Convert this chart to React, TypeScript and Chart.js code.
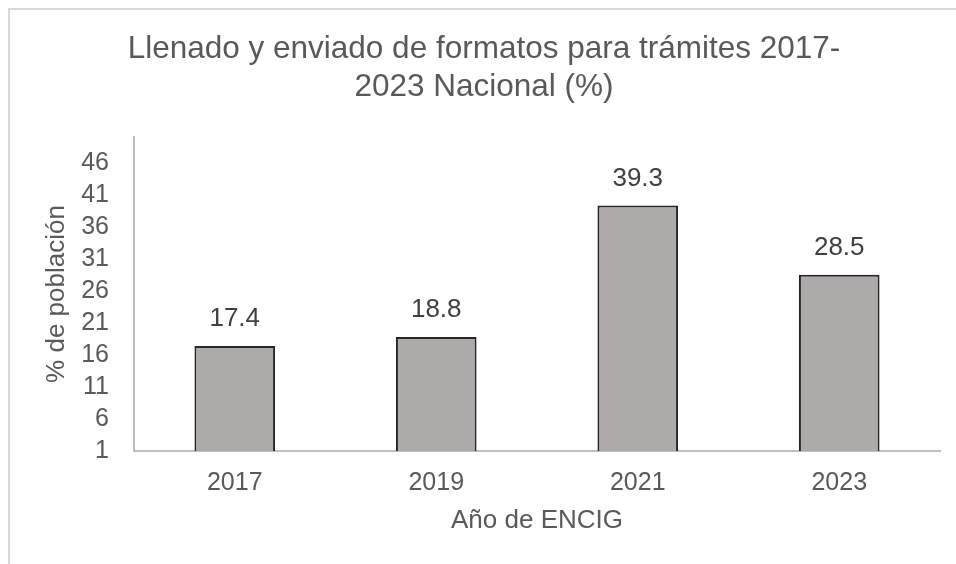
import React, { useEffect, useRef } from "react";
import { Chart, registerables } from "chart.js";

Chart.register(...registerables);

const categories = ["2017", "2019", "2021", "2023"];
const values = [17.4, 18.8, 39.3, 28.5];
const yTickValues = [1, 6, 11, 16, 21, 26, 31, 36, 41, 46];
const titleLines = ["Llenado y enviado de formatos para trámites 2017-", "2023 Nacional (%)"];
const xAxisTitle = "Año de ENCIG";
const yAxisTitle = "% de población";

const FONT = "'Liberation Sans', Arial, sans-serif";
const TEXT = "#595959";

const barLabels = {
  id: "barLabels",
  afterDatasetsDraw(chart: any) {
    const ctx = chart.ctx;
    const meta = chart.getDatasetMeta(0);
    ctx.save();
    ctx.font = `26px ${FONT}`;
    ctx.fillStyle = "#404040";
    ctx.textAlign = "center";
    ctx.textBaseline = "middle";
    meta.data.forEach((el: any, i: number) => {
      ctx.fillText(values[i].toFixed(1), el.x, el.y - 27);
    });
    ctx.restore();
  },
};

export default function App() {
  const ref = useRef<HTMLCanvasElement | null>(null);
  useEffect(() => {
    if (!ref.current) return;
    const chart = new Chart(ref.current, {
      type: "bar",
      data: {
        labels: categories,
        datasets: [
          {
            data: values,
            backgroundColor: "#AEAAAA",
            borderColor: "#262626",
            borderWidth: 2,
            borderSkipped: false,
            barPercentage: 0.4,
            categoryPercentage: 1,
          },
        ],
      },
      options: {
        responsive: false,
        animation: false,
        devicePixelRatio: 1,
        layout: { padding: { left: 18, right: 16, top: 0, bottom: 0 } },
        plugins: {
          legend: { display: false },
          tooltip: { enabled: false },
          title: {
            display: true,
            text: titleLines,
            color: TEXT,
            font: { family: FONT, size: 31.5, weight: "normal", lineHeight: 1.2 },
            padding: { top: 20.5, bottom: 30.9 },
          },
        },
        scales: {
          x: {
            grid: { display: false, drawTicks: false },
            border: { display: true, color: "#bfbfbf", width: 2 },
            ticks: { color: TEXT, padding: 17, font: { family: FONT, size: 25 } },
            title: {
              display: true,
              text: xAxisTitle,
              color: TEXT,
              font: { family: FONT, size: 26 },
              padding: { top: 0, bottom: 27.4 },
            },
            afterFit: (s: any) => {
              s.height = 113;
            },
          },
          y: {
            min: 1,
            max: 50,
            grid: { display: false, drawTicks: false },
            border: { display: true, color: "#bfbfbf", width: 2 },
            ticks: { color: TEXT, padding: 25, font: { family: FONT, size: 25 } },
            afterBuildTicks: (s: any) => {
              s.ticks = yTickValues.map((v) => ({ value: v }));
            },
            title: {
              display: true,
              text: yAxisTitle,
              color: TEXT,
              font: { family: FONT, size: 26 },
              padding: { top: 13.4, bottom: 0 },
            },
            afterFit: (s: any) => {
              s.width = 106;
            },
          },
        },
      },
      plugins: [barLabels],
    });
    return () => chart.destroy();
  }, []);

  return (
    <div
      style={{
        position: "absolute",
        left: 8,
        top: 8,
        width: 948,
        height: 556,
        borderTop: "2px solid #d9d9d9",
        borderLeft: "2px solid #d9d9d9",
        boxSizing: "border-box",
        background: "#fff",
      }}
    >
      <canvas ref={ref} width={946} height={554} style={{ display: "block", width: 946, height: 554 }} />
    </div>
  );
}
